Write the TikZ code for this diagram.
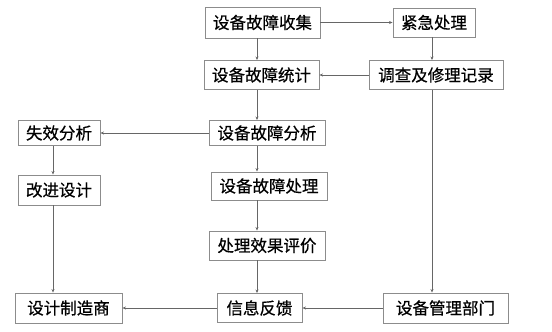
\documentclass[tikz,border=0pt]{standalone}
\usepackage{fontspec}
\newfontfamily\cjk[FakeBold=0.6]{Noto Sans CJK SC}
\usetikzlibrary{arrows.meta}

\begin{document}
\begin{tikzpicture}[x=1pt,y=-1pt,>={Stealth[length=3.5pt,width=3pt]},
  font=\cjk\fontsize{16.5}{17}\selectfont,
  box/.style={draw=black!45,line width=0.9pt,inner sep=2pt,minimum width=82pt,minimum height=29pt,fill=white},
  link/.style={->,draw=black!60,line width=0.7pt}]
\useasboundingbox (0,0) rectangle (552,332);
% column lines
\coordinate (midx) at (257,0);
\coordinate (leftx) at (53,0);
\coordinate (rightx) at (432,0);
% middle column
\node[box,minimum width=115pt,minimum height=31pt] (collect) at (262.5,22.5) {设备故障收集};
\node[box,minimum width=115pt] (stat) at (261.5,75) {设备故障统计};
\node[box,minimum width=116pt,minimum height=25pt] (anal) at (267,133) {设备故障分析};
\node[box,minimum width=116pt,minimum height=28pt] (proc) at (269,186) {设备故障处理};
\node[box,minimum width=116pt] (eval) at (267,245.5) {处理效果评价};
\node[box,minimum width=85pt] (feedback) at (259.5,308) {信息反馈};
% right column
\node[box] (urgent) at (434,22.5) {紧急处理};
\node[box,minimum width=134pt] (record) at (436,75) {调查及修理记录};
\node[box,minimum width=125pt,minimum height=30pt] (dept) at (445.5,308) {设备管理部门};
% left column
\node[box,minimum height=25pt] (fail) at (59,133) {失效分析};
\node[box,minimum height=30pt] (improve) at (59,190) {改进设计};
\node[box,minimum width=107pt,minimum height=30pt] (maker) at (68.5,308) {设计制造商};
% connectors
\draw[link] (collect) -- (urgent);
\draw[link] (collect.south -| midx) -- (stat.north -| midx);
\draw[link] (urgent.south -| rightx) -- (record.north -| rightx);
\draw[link] (record) -- (stat);
\draw[link] (stat.south -| midx) -- (anal.north -| midx);
\draw[link] (anal) -- (fail);
\draw[link] (fail.south -| leftx) -- (improve.north -| leftx);
\draw[link] (anal.south -| midx) -- (proc.north -| midx);
\draw[link] (proc.south -| midx) -- (eval.north -| midx);
\draw[link] (eval.south -| midx) -- (feedback.north -| midx);
\draw[link] (improve.south -| leftx) -- (maker.north -| leftx);
\draw[link] (record.south -| rightx) -- (dept.north -| rightx);
\draw[link] (dept) -- (feedback);
\draw[link] (feedback) -- (maker);
\end{tikzpicture}
\end{document}
